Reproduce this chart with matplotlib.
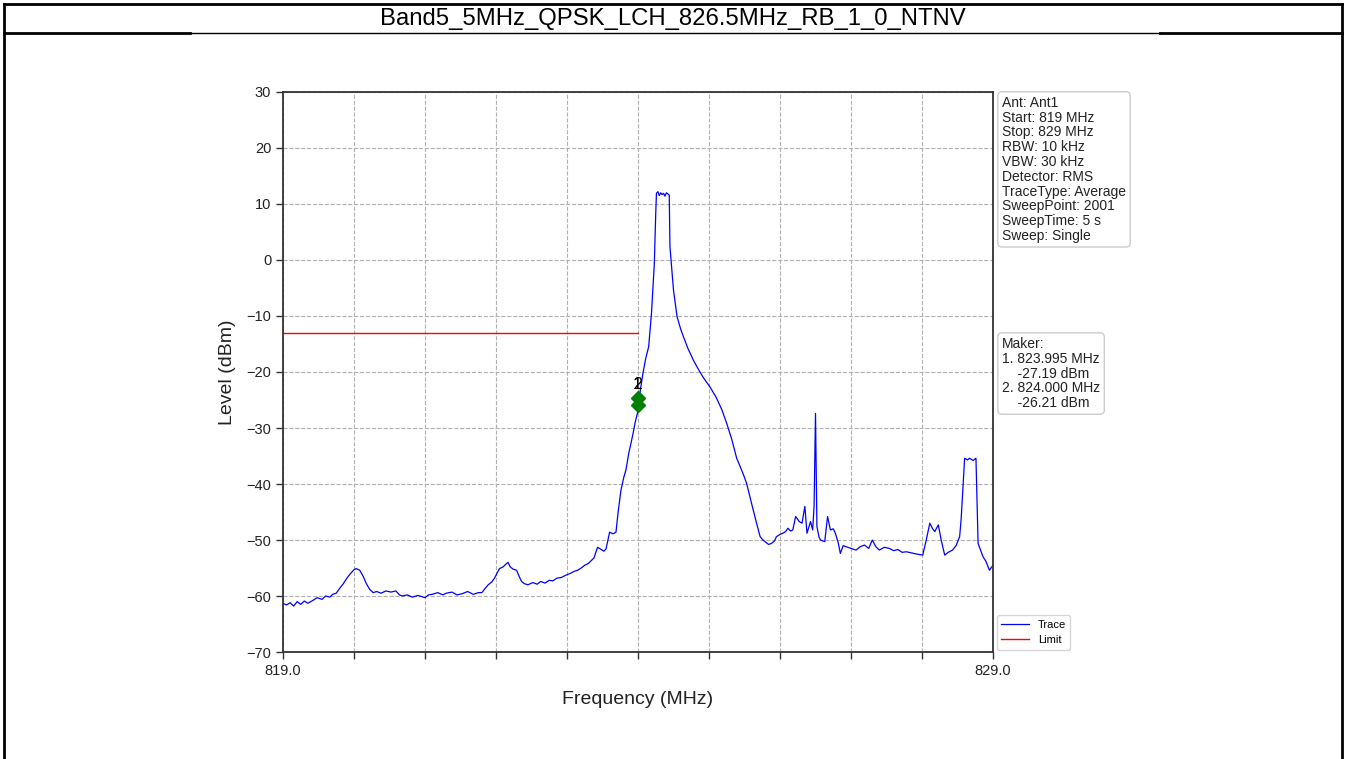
import matplotlib
matplotlib.use("Agg")
import matplotlib.pyplot as plt
from matplotlib.lines import Line2D

plt.rcParams['font.family'] = ['Liberation Sans', 'DejaVu Sans']

title = "Band5_5MHz_QPSK_LCH_826.5MHz_RB_1_0_NTNV"

freq = [819.00, 819.05, 819.10, 819.15, 819.20, 819.25, 819.30, 819.35, 819.42, 819.48,
        819.55, 819.60, 819.66, 819.70, 819.75, 819.80, 819.85, 819.90, 819.95, 820.00,
        820.03, 820.08, 820.13, 820.17, 820.22, 820.27, 820.32, 820.38, 820.45, 820.52,
        820.59, 820.64, 820.68, 820.75, 820.82, 820.90, 821.00, 821.05, 821.10, 821.18,
        821.25, 821.30, 821.38, 821.45, 821.52, 821.60, 821.68, 821.75, 821.80, 821.85,
        821.89, 821.94, 821.98, 822.02, 822.05, 822.10, 822.14, 822.17, 822.20, 822.24,
        822.29, 822.33, 822.36, 822.40, 822.45, 822.52, 822.58, 822.63, 822.69, 822.75,
        822.80, 822.86, 822.92, 822.98, 823.04, 823.10, 823.15, 823.20, 823.25, 823.30,
        823.34, 823.38, 823.43, 823.47, 823.52, 823.55, 823.58, 823.60, 823.65, 823.69,
        823.72, 823.76, 823.80, 823.83, 823.87, 823.90, 823.93, 823.96, 823.995, 824.00,
        824.03, 824.07, 824.11, 824.15, 824.19, 824.21, 824.23, 824.25, 824.26, 824.28,
        824.30, 824.32, 824.34, 824.36, 824.38, 824.40, 824.42, 824.44, 824.45, 824.50,
        824.55, 824.60, 824.64, 824.70, 824.78, 824.85, 824.92, 825.01, 825.10, 825.18,
        825.25, 825.32, 825.39, 825.44, 825.49, 825.53, 825.60, 825.67, 825.72, 825.76,
        825.79, 825.84, 825.88, 825.92, 825.95, 826.00, 826.04, 826.08, 826.11, 826.15,
        826.18, 826.22, 826.25, 826.27, 826.31, 826.35, 826.38, 826.43, 826.46, 826.48,
        826.50, 826.52, 826.55, 826.57, 826.63, 826.67, 826.71, 826.75, 826.78, 826.82,
        826.85, 826.89, 826.93, 827.00, 827.07, 827.13, 827.19, 827.25, 827.30, 827.35,
        827.40, 827.47, 827.54, 827.60, 827.66, 827.72, 827.78, 827.85, 827.92, 828.01,
        828.06, 828.11, 828.15, 828.18, 828.23, 828.27, 828.32, 828.37, 828.43, 828.48,
        828.53, 828.55, 828.57, 828.60, 828.64, 828.67, 828.72, 828.76, 828.79, 828.86,
        828.90, 828.95, 829.00]

level = [-61.3, -61.6, -61.2, -61.8, -61.0, -61.5, -60.9, -61.3, -60.8, -60.3,
         -60.6, -60.0, -60.2, -59.7, -59.5, -58.6, -57.8, -56.8, -56.0, -55.3,
         -55.1, -55.4, -56.5, -57.7, -58.8, -59.4, -59.2, -59.5, -59.1, -59.3,
         -59.1, -59.8, -60.0, -59.8, -60.2, -59.9, -60.3, -59.8, -59.7, -59.4,
         -59.8, -59.5, -59.3, -59.8, -59.6, -59.2, -59.7, -59.4, -59.4, -58.6,
         -58.0, -57.5, -56.8, -55.8, -55.1, -54.8, -54.3, -54.0, -54.8, -55.2,
         -55.4, -56.6, -57.4, -57.8, -58.0, -57.6, -57.9, -57.4, -57.7, -57.2,
         -57.3, -56.8, -56.7, -56.3, -56.0, -55.6, -55.4, -55.0, -54.5, -54.2,
         -53.7, -53.2, -51.3, -51.6, -52.0, -51.6, -49.8, -48.6, -48.9, -48.6,
         -45.0, -41.1, -38.8, -37.5, -34.5, -32.8, -31.0, -29.0, -27.2, -26.2,
         -23.5, -20.2, -17.5, -15.5, -9.5, -5.0, -0.6, 8.4, 11.9, 12.2,
         11.5, 12.0, 11.7, 11.9, 11.4, 12.0, 11.8, 11.6, 2.4, -5.4,
         -10.1, -12.3, -13.7, -15.7, -17.9, -19.5, -21.0, -22.6, -24.5, -26.7,
         -29.2, -32.0, -35.4, -36.9, -38.5, -39.9, -43.5, -47.0, -49.4, -50.0,
         -50.3, -50.8, -50.6, -50.2, -49.4, -49.0, -48.8, -48.5, -47.9, -48.4,
         -48.2, -45.8, -46.3, -46.7, -47.0, -44.0, -48.8, -46.7, -48.2, -44.0,
         -27.4, -47.6, -49.5, -50.0, -50.3, -45.8, -48.2, -48.0, -48.8, -50.5,
         -52.4, -51.0, -51.2, -51.5, -51.8, -51.2, -50.9, -51.5, -50.0, -51.2,
         -51.8, -51.3, -51.5, -51.9, -51.7, -52.2, -52.1, -52.3, -52.5, -52.7,
         -50.0, -47.0, -48.0, -48.5, -47.3, -50.0, -52.7, -52.2, -51.8, -51.0,
         -49.4, -46.5, -42.2, -35.4, -35.7, -35.4, -35.8, -35.4, -50.6, -53.0,
         -53.8, -55.4, -54.5]

limit_freq = [819.0, 824.0]
limit_level = [-13.0, -13.0]

marker_freq = [823.995, 824.000]
marker_level = [-25.9, -24.7]
marker_names = ["1", "2"]

info_lines = ["Ant: Ant1", "Start: 819 MHz", "Stop: 829 MHz", "RBW: 10 kHz", "VBW: 30 kHz",
              "Detector: RMS", "TraceType: Average", "SweepPoint: 2001", "SweepTime: 5 s",
              "Sweep: Single"]
maker_lines = ["Maker:", "1. 823.995 MHz", "    -27.19 dBm", "2. 824.000 MHz", "    -26.21 dBm"]

W, H = 1346, 759
fig = plt.figure(figsize=(W / 100, H / 100), dpi=100)
fig.patch.set_facecolor('white')

ax = fig.add_axes([283 / W, 1 - 652 / H, 710 / W, 560 / H])
ax.plot(freq, level, color='#0000ff', lw=0.9, label='Trace')
ax.plot(limit_freq, limit_level, color='#ff0000', lw=1.0, label='Limit')
label_y = max(marker_level) + 1.2
for f, l, n in zip(marker_freq, marker_level, marker_names):
    ax.plot([f], [l], marker='D', color='green', markersize=7, linestyle='none')
    ax.text(f, label_y, n, ha='center', va='bottom', fontsize=11.5, color='black')

ax.set_xlim(819, 829)
ax.set_ylim(-70, 30)
ax.set_xticks([819 + i for i in range(11)])
ax.set_xticklabels(["819.0"] + [""] * 9 + ["829.0"])
ax.set_yticks(range(-70, 31, 10))
ax.tick_params(axis='both', direction='out', length=5, width=1.0, labelsize=10.5,
               color='#333333', labelcolor='#222222')
ax.grid(True, color='#b0b0b0', linestyle='--', lw=0.8)
for sp in ax.spines.values():
    sp.set_color('#333333')
    sp.set_linewidth(1.3)

ax.set_xlabel("Frequency (MHz)", fontsize=14, color='#222222')
ax.xaxis.set_label_coords(0.5, (652 - 699) / 560)
ax.xaxis.label.set_va('center')
ax.set_ylabel("Level (dBm)", fontsize=14, color='#222222')
ax.yaxis.set_label_coords((228 - 283) / 710, 0.5)
ax.yaxis.label.set_va('center')

box = dict(boxstyle='round,pad=0.3', fc='white', ec='#cccccc', lw=1.0)
ax.text(1.0127, 0.993, "\n".join(info_lines), transform=ax.transAxes, ha='left', va='top',
        fontsize=10, linespacing=1.07, bbox=box, color='#222222')
ax.text(1.0127, 0.5625, "\n".join(maker_lines), transform=ax.transAxes, ha='left', va='top',
        fontsize=10, linespacing=1.07, bbox=box, color='#222222')

leg = ax.legend(loc='lower left', bbox_to_anchor=(1.002, 0.0), fontsize=8, handlelength=2.5,
                frameon=True, fancybox=True, borderaxespad=0.2)
leg.get_frame().set_edgecolor('#cccccc')

fig.text(0.5, 1 - 19 / H, title, ha='center', va='center', fontsize=17.2, color='black')

# outer table-like frame
def fl(x0, y0, x1, y1, lw):
    fig.add_artist(Line2D([x0 / W, x1 / W], [1 - y0 / H, 1 - y1 / H], color='black', lw=lw))

fl(4, 4, 1342, 4, 2.0)
fl(4, 4, 4, 759, 2.0)
fl(1342, 4, 1342, 759, 2.0)
fl(4, 33, 190, 33, 2.0)
fl(1160, 33, 1342, 33, 2.0)
fl(190, 33, 1160, 33, 1.0)

fig.savefig("out.png", dpi=100, facecolor='white')
